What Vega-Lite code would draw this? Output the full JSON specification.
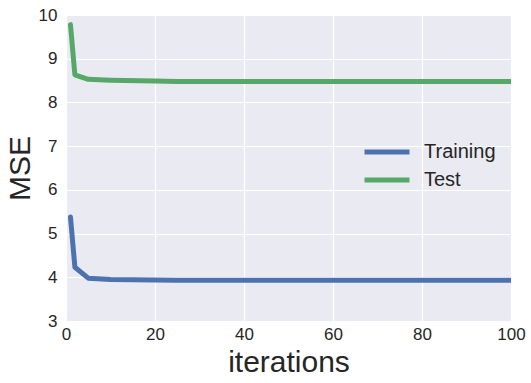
{
  "$schema": "https://vega.github.io/schema/vega-lite/v6.json",
  "width": 445,
  "height": 306,
  "autosize": {"type": "none"},
  "padding": {"left": 66, "top": 15, "right": 20, "bottom": 62},
  "background": "white",
  "config": {
    "view": {"fill": "#EAEAF2", "stroke": null},
    "font": "Liberation Sans",
    "axis": {
      "domain": false,
      "ticks": false,
      "labelFlush": false,
      "gridColor": "white",
      "gridWidth": 1.2,
      "gridOpacity": 1,
      "labelFont": "Liberation Sans",
      "labelFontSize": 17,
      "labelColor": "#262626",
      "titleFont": "Liberation Sans",
      "titleFontSize": 30,
      "titleFontWeight": "normal",
      "titleColor": "#262626"
    }
  },
  "data": {
    "values": [
      {"iter": 1, "mse": 5.38, "set": "Training"},
      {"iter": 2, "mse": 4.23, "set": "Training"},
      {"iter": 5, "mse": 3.98, "set": "Training"},
      {"iter": 10, "mse": 3.95, "set": "Training"},
      {"iter": 20, "mse": 3.94, "set": "Training"},
      {"iter": 25, "mse": 3.93, "set": "Training"},
      {"iter": 50, "mse": 3.93, "set": "Training"},
      {"iter": 75, "mse": 3.93, "set": "Training"},
      {"iter": 100, "mse": 3.93, "set": "Training"},
      {"iter": 1, "mse": 9.78, "set": "Test"},
      {"iter": 2, "mse": 8.63, "set": "Test"},
      {"iter": 5, "mse": 8.53, "set": "Test"},
      {"iter": 10, "mse": 8.51, "set": "Test"},
      {"iter": 20, "mse": 8.49, "set": "Test"},
      {"iter": 25, "mse": 8.48, "set": "Test"},
      {"iter": 50, "mse": 8.48, "set": "Test"},
      {"iter": 75, "mse": 8.48, "set": "Test"},
      {"iter": 100, "mse": 8.48, "set": "Test"}
    ]
  },
  "mark": {"type": "line", "strokeWidth": 5, "strokeCap": "round", "strokeJoin": "round", "clip": true},
  "encoding": {
    "x": {
      "field": "iter",
      "type": "quantitative",
      "scale": {"domain": [0, 100], "nice": false, "zero": false},
      "axis": {"title": "iterations", "values": [0, 20, 40, 60, 80, 100], "labelPadding": 5, "titlePadding": 5}
    },
    "y": {
      "field": "mse",
      "type": "quantitative",
      "scale": {"domain": [3, 10], "nice": false, "zero": false},
      "axis": {"title": "MSE", "values": [3, 4, 5, 6, 7, 8, 9, 10], "labelPadding": 9, "titlePadding": 3}
    },
    "color": {
      "field": "set",
      "type": "nominal",
      "sort": ["Training", "Test"],
      "scale": {"domain": ["Training", "Test"], "range": ["#4C72B0", "#55A868"]},
      "legend": {
        "title": null,
        "orient": "none",
        "legendX": 307,
        "legendY": 123,
        "symbolType": "M-2,0L2,0",
        "symbolSize": 506,
        "symbolStrokeWidth": 5,
        "labelFontSize": 20,
        "labelFont": "Liberation Sans",
        "labelColor": "#262626",
        "labelOffset": 23,
        "rowPadding": 4,
        "labelLimit": 200
      }
    }
  }
}
